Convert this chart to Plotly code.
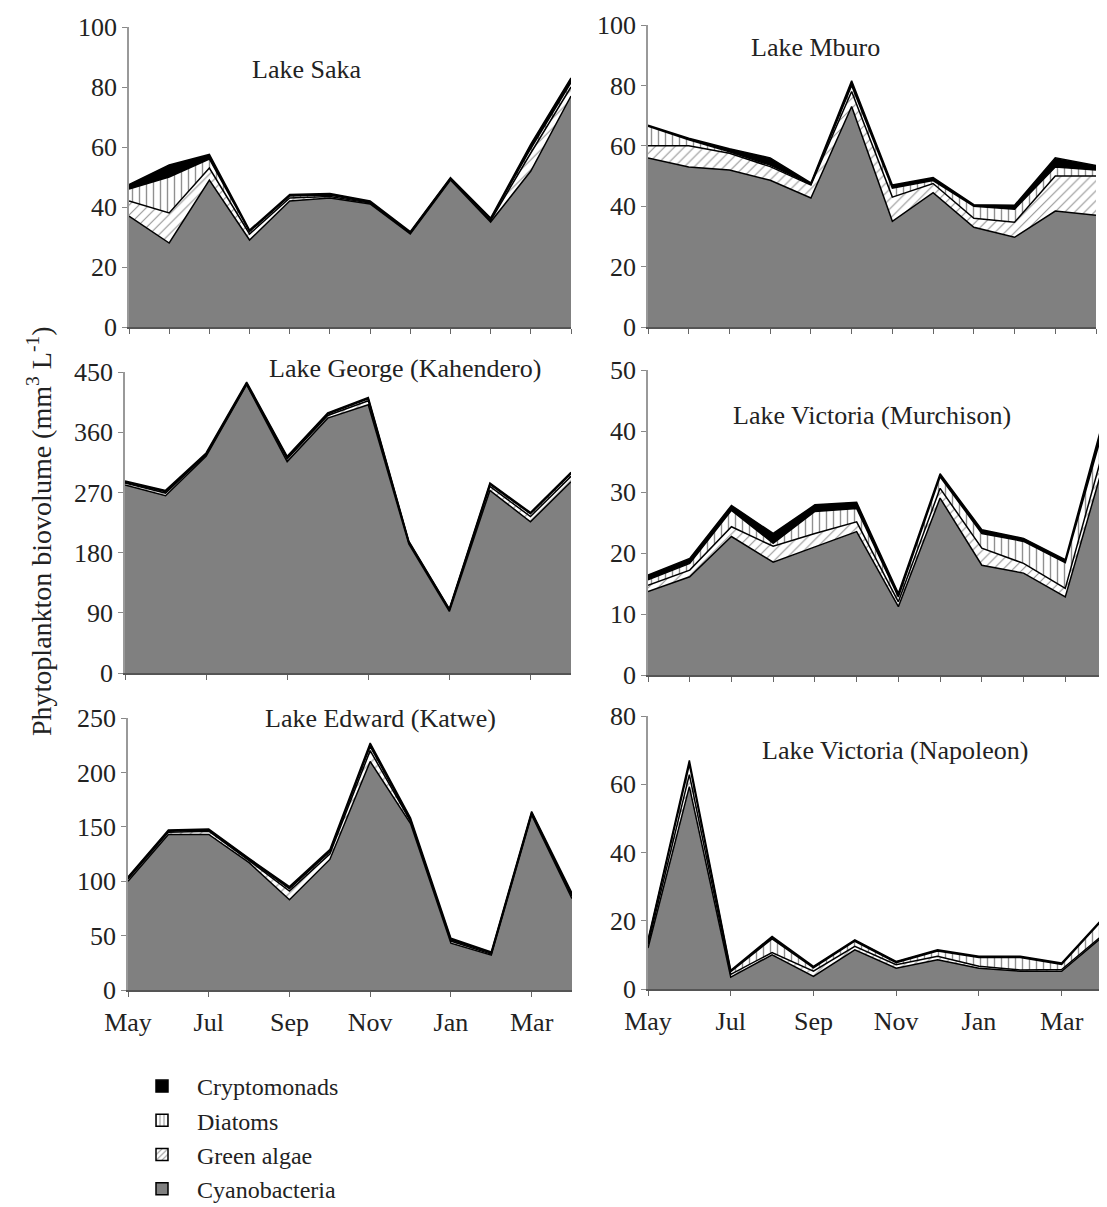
import plotly.graph_objects as go

months = ["May", "Jun", "Jul", "Aug", "Sep", "Oct", "Nov", "Dec", "Jan", "Feb", "Mar", "Apr"]
tick_months = ["May", "Jul", "Sep", "Nov", "Jan", "Mar"]
groups = ["Cyanobacteria", "Green algae", "Diatoms", "Cryptomonads"]
legend_order = ["Cryptomonads", "Diatoms", "Green algae", "Cyanobacteria"]

# Lake Saka
saka_cyano = [37, 28, 49, 29, 42, 43, 41, 31, 49, 35, 52, 77]
saka_green = [5, 10, 4, 2, 1, 0.5, 0.3, 0.3, 0.3, 0.5, 6, 3]
saka_diatoms = [4, 12, 3, 0.8, 0.7, 0.5, 0.2, 0.2, 0.2, 0.5, 1.5, 1.5]
saka_crypto = [1.5, 4, 1.5, 0.5, 0.5, 0.5, 0.5, 0.3, 0.3, 0.3, 1.5, 1.5]

# Lake Mburo
mburo_cyano = [56, 53, 52, 48.6, 42.7, 73, 35, 44.5, 33, 29.7, 38.4, 37]
mburo_green = [4, 7, 5.5, 4.5, 4.3, 5, 8, 3, 3, 5, 11.6, 13]
mburo_diatoms = [6.5, 2, 0.5, 0.5, 0.3, 2, 3, 1, 4, 4.3, 3, 2]
mburo_crypto = [0.3, 0.5, 1, 2.4, 0.4, 1.5, 1, 1, 0.5, 1.3, 3, 1.5]

# Lake George (Kahendero)
george_cyano = [281, 265, 324, 431, 316, 381, 401, 193, 92, 273, 226, 286]
george_green = [3, 4, 2, 1, 4, 4, 6, 2, 2, 6, 8, 8]
george_diatoms = [1, 2, 1, 1, 2, 2, 3, 1, 1, 3, 4, 4]
george_crypto = [2, 2, 2, 2, 2, 2, 2, 1, 1, 2, 2, 2]

# Lake Victoria (Murchison)
murch_cyano = [13.7, 16.1, 22.7, 18.5, 21, 23.5, 11.2, 29, 18, 16.7, 12.8, 36.5]
murch_green = [1, 1.1, 1.6, 2.6, 2.2, 1.6, 0.8, 1.6, 2.8, 1.6, 1.4, 2.5]
murch_diatoms = [0.9, 1.1, 2.7, 0.5, 3.6, 2.2, 0.8, 1.9, 2.4, 3.6, 4.2, 3.5]
murch_crypto = [0.8, 0.8, 0.8, 1.6, 1.1, 1.0, 0.6, 0.5, 0.6, 0.5, 0.5, 1.5]

# Lake Edward (Katwe)
edward_cyano = [100, 143, 143, 117, 83, 120, 210, 153, 43, 32, 161, 84]
edward_green = [2, 2, 3, 2, 8, 5, 10, 2, 2, 1, 1, 2]
edward_diatoms = [1, 1, 1, 1, 2, 2, 4, 1, 1, 1, 1, 1]
edward_crypto = [1, 1, 1, 1, 2, 2, 3, 2, 1.5, 1, 1, 2]

# Lake Victoria (Napoleon)
napo_cyano = [12, 59.3, 3.5, 10, 3.7, 11.5, 6.1, 8.6, 6.1, 5.2, 5.2, 15.4]
napo_green = [1, 3.5, 0.8, 0.7, 1.5, 1, 1, 1, 0.6, 0.4, 0.5, 0.5]
napo_diatoms = [1, 3, 0.8, 4, 1, 1.5, 0.6, 1.5, 2.5, 3.6, 1.5, 4.5]
napo_crypto = [0.4, 1.2, 0.4, 0.7, 0.4, 0.4, 0.4, 0.4, 0.4, 0.4, 0.4, 0.4]

OFF = 8  # page body margin
W, H = 1107 - OFF, 1207 - OFF
FONT = "Liberation Serif"
TXT = "#222"

def px_x(p):
    return (p - OFF) / W

def px_y(p):
    return 1 - (p - OFF) / H

# name, data, y max, y step, x-domain px, y-domain px (bottom, top), tick step, title centre px, bottom row
panels = [
    ("Lake Saka", (saka_cyano, saka_green, saka_diatoms, saka_crypto), 100, 20,
     (129, 571), (327, 27), 1, (306, 70), False),
    ("Lake Mburo", (mburo_cyano, mburo_green, mburo_diatoms, mburo_crypto), 100, 20,
     (648, 1096), (327, 25), 1, (815, 47), False),
    ("Lake George (Kahendero)", (george_cyano, george_green, george_diatoms, george_crypto), 450, 90,
     (125, 571), (673, 372), 2, (405, 368), False),
    ("Lake Victoria (Murchison)", (murch_cyano, murch_green, murch_diatoms, murch_crypto), 50, 10,
     (648, 1107), (675, 370), 1, (872, 416), False),
    ("Lake Edward (Katwe)", (edward_cyano, edward_green, edward_diatoms, edward_crypto), 250, 50,
     (128, 572), (990, 718), 2, (380, 718), True),
    ("Lake Victoria (Napoleon)", (napo_cyano, napo_green, napo_diatoms, napo_crypto), 80, 20,
     (648, 1103), (989, 716), 2, (895, 750), True),
]

patterns = {
    "Green algae": dict(shape="/", fgcolor="#222", bgcolor="white", size=7, solidity=0.15),
    "Diatoms": dict(shape="|", fgcolor="#222", bgcolor="white", size=7, solidity=0.2),
}
solid = {"Cyanobacteria": "#808080", "Cryptomonads": "black"}

xvals = list(range(len(months)))
fig = go.Figure()
layout = dict(
    width=W, height=H, margin=dict(l=0, r=0, t=0, b=0, autoexpand=False),
    paper_bgcolor="white", plot_bgcolor="white",
    font=dict(family=FONT, size=24, color=TXT),
    showlegend=True,
)
annotations = []

for i, (title, data, ymax, ystep, xd, yd, tstep, tpos, bottom) in enumerate(panels):
    n = i + 1
    xa = "x" if n == 1 else f"x{n}"
    ya = "y" if n == 1 else f"y{n}"
    for gname, vals in zip(groups, data):
        kw = {}
        if gname in patterns:
            kw["fillcolor"] = "white"
            kw["fillpattern"] = patterns[gname]
        else:
            kw["fillcolor"] = solid[gname]
        fig.add_trace(go.Scatter(
            x=xvals, y=vals, name=gname, mode="lines",
            stackgroup=f"s{n}", line=dict(color="black", width=1.5),
            xaxis=xa, yaxis=ya, showlegend=False, **kw,
        ))
    xkey = "xaxis" if n == 1 else f"xaxis{n}"
    ykey = "yaxis" if n == 1 else f"yaxis{n}"
    xaxis = dict(
        domain=[px_x(xd[0]), px_x(xd[1])], range=[0, 11], anchor=ya,
        tickmode="array", tickvals=xvals[::2] if bottom else xvals[::tstep],
        showticklabels=bottom, ticks="outside", ticklen=5, tickcolor="#666",
        showline=True, linecolor="#555", linewidth=1.5, showgrid=False, zeroline=False,
        tickfont=dict(family=FONT, size=26, color=TXT),
    )
    if bottom:
        xaxis["ticktext"] = tick_months
        xaxis["ticklabelstandoff"] = 3
    layout[xkey] = xaxis
    layout[ykey] = dict(
        domain=[px_y(yd[0]), px_y(yd[1])], range=[0, ymax], anchor=xa,
        tickmode="linear", tick0=0, dtick=ystep,
        ticks="outside", ticklen=5, tickcolor="#888",
        showline=True, linecolor="#999", linewidth=1.5, showgrid=False, zeroline=False,
        tickfont=dict(family=FONT, size=26, color=TXT),
    )
    annotations.append(dict(
        text=title, x=px_x(tpos[0]), y=px_y(tpos[1]), xref="paper", yref="paper",
        showarrow=False, xanchor="center", yanchor="middle",
        font=dict(family=FONT, size=26, color=TXT),
    ))

# legend entries (bar swatches, no data)
for gname in legend_order:
    marker = dict(line=dict(color="black", width=1.5))
    if gname in patterns:
        marker["color"] = "white"
        marker["pattern"] = dict(shape=patterns[gname]["shape"], fgcolor="#222",
                                 bgcolor="white", size=5, solidity=0.25)
    else:
        marker["color"] = solid[gname]
    fig.add_trace(go.Bar(x=[None], y=[None], name=gname, marker=marker,
                         xaxis="x", yaxis="y", showlegend=True))

annotations.append(dict(
    text="Phytoplankton biovolume (mm<sup>3</sup> L<sup>-1</sup>)",
    x=px_x(40), y=px_y(531), xref="paper", yref="paper", textangle=-90,
    showarrow=False, xanchor="center", yanchor="middle",
    font=dict(family=FONT, size=28, color=TXT),
))

layout["annotations"] = annotations
layout["legend"] = dict(
    x=px_x(127), y=px_y(1064), xanchor="left", yanchor="top",
    font=dict(family=FONT, size=24, color=TXT), traceorder="normal",
    bgcolor="rgba(0,0,0,0)", itemwidth=60, tracegroupgap=0,
)
fig.update_layout(**layout)
fig.write_html("out.html")
